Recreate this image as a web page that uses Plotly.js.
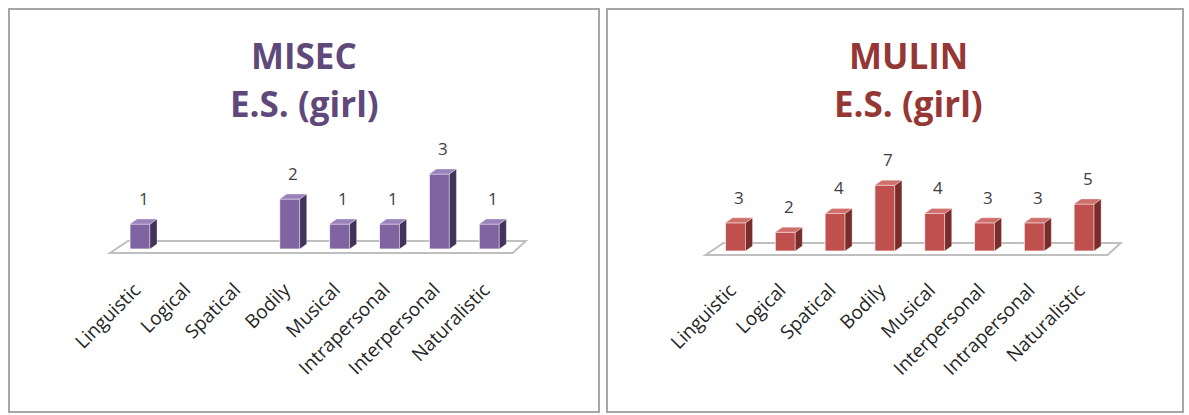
<!DOCTYPE html>
<html>
<head>
<meta charset="utf-8">
<script src="https://cdn.plot.ly/plotly-3.0.1.min.js"></script>
<style>html,body{margin:0;padding:0;background:#fff;}#chart{width:1189px;height:415px;}</style>
</head>
<body>
<div id="chart"></div>
<script>
// ---- data ----
const misecTitle = ['MISEC', 'E.S. (girl)'];
const misecCategories = ['Linguistic','Logical','Spatical','Bodily','Musical','Intrapersonal','Interpersonal','Naturalistic'];
const misecValues = [1, 0, 0, 2, 1, 1, 3, 1];

const mulinTitle = ['MULIN', 'E.S. (girl)'];
const mulinCategories = ['Linguistic','Logical','Spatical','Bodily','Musical','Interpersonal','Intrapersonal','Naturalistic'];
const mulinValues = [3, 2, 4, 7, 4, 3, 3, 5];

// ---- layout helpers ----
const W = 1189, H = 415;
const fx = p => p / W;
const fy = p => (H - p) / H;
const TITLE_FONT = 'Open Sans, sans-serif';
const TICK_FONT = 'Open Sans, sans-serif';

const traces = [];
const shapes = [];
const annotations = [];
const layout = {
  width: W, height: H,
  margin: {l: 0, r: 0, t: 0, b: 0},
  paper_bgcolor: '#ffffff',
  plot_bgcolor: 'rgba(0,0,0,0)',
  showlegend: false,
  bargap: 0,
};

function panel(opts) {
  const {idx, cats, vals, title, frame, firstPx, stepPx, basePx, unitPx, yMin, yMax,
         front, side, top, titleColor, titleX} = opts;
  const xa = idx === 1 ? 'x' : 'x' + idx;
  const ya = idx === 1 ? 'y' : 'y' + idx;
  const xKey = idx === 1 ? 'xaxis' : 'xaxis' + idx;
  const yKey = idx === 1 ? 'yaxis' : 'yaxis' + idx;
  const xMin = -0.8, xMax = 7.9;
  const startPx = firstPx + xMin * stepPx;
  const endPx = firstPx + xMax * stepPx;
  const bottomPx = basePx - yMin * unitPx;
  const topPx = basePx - yMax * unitPx;

  layout[xKey] = {
    domain: [fx(startPx), fx(endPx)], range: [xMin, xMax], anchor: ya,
    tickvals: cats.map((c, i) => i), ticktext: cats, tickangle: -45,
    showgrid: false, zeroline: false, showline: false,
    ticks: '', ticklen: 0, ticklabelshift: -5,
    tickfont: {family: TICK_FONT, size: 19, color: '#262626'}, fixedrange: true
  };
  layout[yKey] = {
    domain: [fy(bottomPx), fy(topPx)], range: [yMin, yMax], anchor: xa,
    visible: false, showgrid: false, zeroline: false, fixedrange: true
  };

  const w = 20 / stepPx;          // front face width
  const dx = 7 / stepPx;          // depth offset x
  const dy = 5 / unitPx;          // depth offset y

  // floor
  const fl = -30 / stepPx, fr = (cats.length - 1) + 23.5 / stepPx;
  const bl = -12 / stepPx, br = (cats.length - 1) + 36.5 / stepPx;
  const fY = -4 / unitPx, bY = 8 / unitPx;
  shapes.push({type: 'path', xref: xa, yref: ya, layer: 'below',
    path: `M${fl},${fY} L${fr},${fY} L${br},${bY} L${bl},${bY} Z`,
    line: {color: '#BFBFBF', width: 2}, fillcolor: '#ffffff'});

  traces.push({
    type: 'bar', xaxis: xa, yaxis: ya,
    x: cats.map((c, i) => i), y: vals.map(v => v > 0 ? v : null),
    width: w, marker: {color: front, line: {color: 'rgba(255,255,255,0.7)', width: 1}},
    hoverinfo: 'skip', cliponaxis: false
  });

  vals.forEach((v, i) => {
    if (v <= 0) return;
    const xl = i - w / 2, xr = i + w / 2;
    shapes.push({type: 'path', xref: xa, yref: ya, layer: 'above',
      path: `M${xr},0 L${xr + dx},${dy} L${xr + dx},${v + dy} L${xr},${v} Z`,
      line: {color: 'rgba(255,255,255,0.5)', width: 0.6}, fillcolor: side});
    shapes.push({type: 'path', xref: xa, yref: ya, layer: 'above',
      path: `M${xl},${v} L${xl + dx},${v + dy} L${xr + dx},${v + dy} L${xr},${v} Z`,
      line: {color: 'rgba(255,255,255,0.5)', width: 0.6}, fillcolor: top});
    annotations.push({xref: xa, yref: ya, x: i + dx / 2, y: v, text: String(v),
      showarrow: false, yanchor: 'bottom', yshift: 12,
      font: {family: TICK_FONT, size: 17, color: '#404040'}});
  });

  // frame
  shapes.push({type: 'rect', xref: 'paper', yref: 'paper', layer: 'below',
    x0: fx(frame[0]), x1: fx(frame[1]), y0: fy(frame[3]), y1: fy(frame[2]),
    line: {color: '#A6A6A6', width: 2}, fillcolor: 'rgba(0,0,0,0)'});

  // title
  annotations.push({xref: 'paper', yref: 'paper', x: fx(titleX), y: fy(56), text: '<b>' + title[0] + '</b>',
    showarrow: false, xanchor: 'center', yanchor: 'middle',
    font: {family: TITLE_FONT, size: 35, color: titleColor}});
  annotations.push({xref: 'paper', yref: 'paper', x: fx(titleX), y: fy(104), text: '<b>' + title[1] + '</b>',
    showarrow: false, xanchor: 'center', yanchor: 'middle',
    font: {family: TITLE_FONT, size: 35, color: titleColor}});
}

panel({idx: 1, cats: misecCategories, vals: misecValues, title: misecTitle,
  frame: [9, 599, 9, 412], firstPx: 140, stepPx: 49.9, basePx: 249, unitPx: 25,
  yMin: -1, yMax: 4, front: '#8064A2', side: '#43335A', top: '#9A82BA',
  titleColor: '#5F497A', titleX: 304});

panel({idx: 2, cats: mulinCategories, vals: mulinValues, title: mulinTitle,
  frame: [607, 1183, 9, 412], firstPx: 735.5, stepPx: 49.8, basePx: 251, unitPx: 9.4,
  yMin: -2.5, yMax: 8, front: '#C0504D', side: '#7A2C2A', top: '#CF6F6C',
  titleColor: '#953735', titleX: 908});

layout.shapes = shapes;
layout.annotations = annotations;

Plotly.newPlot('chart', traces, layout, {displayModeBar: false, staticPlot: true});
</script>
</body>
</html>
